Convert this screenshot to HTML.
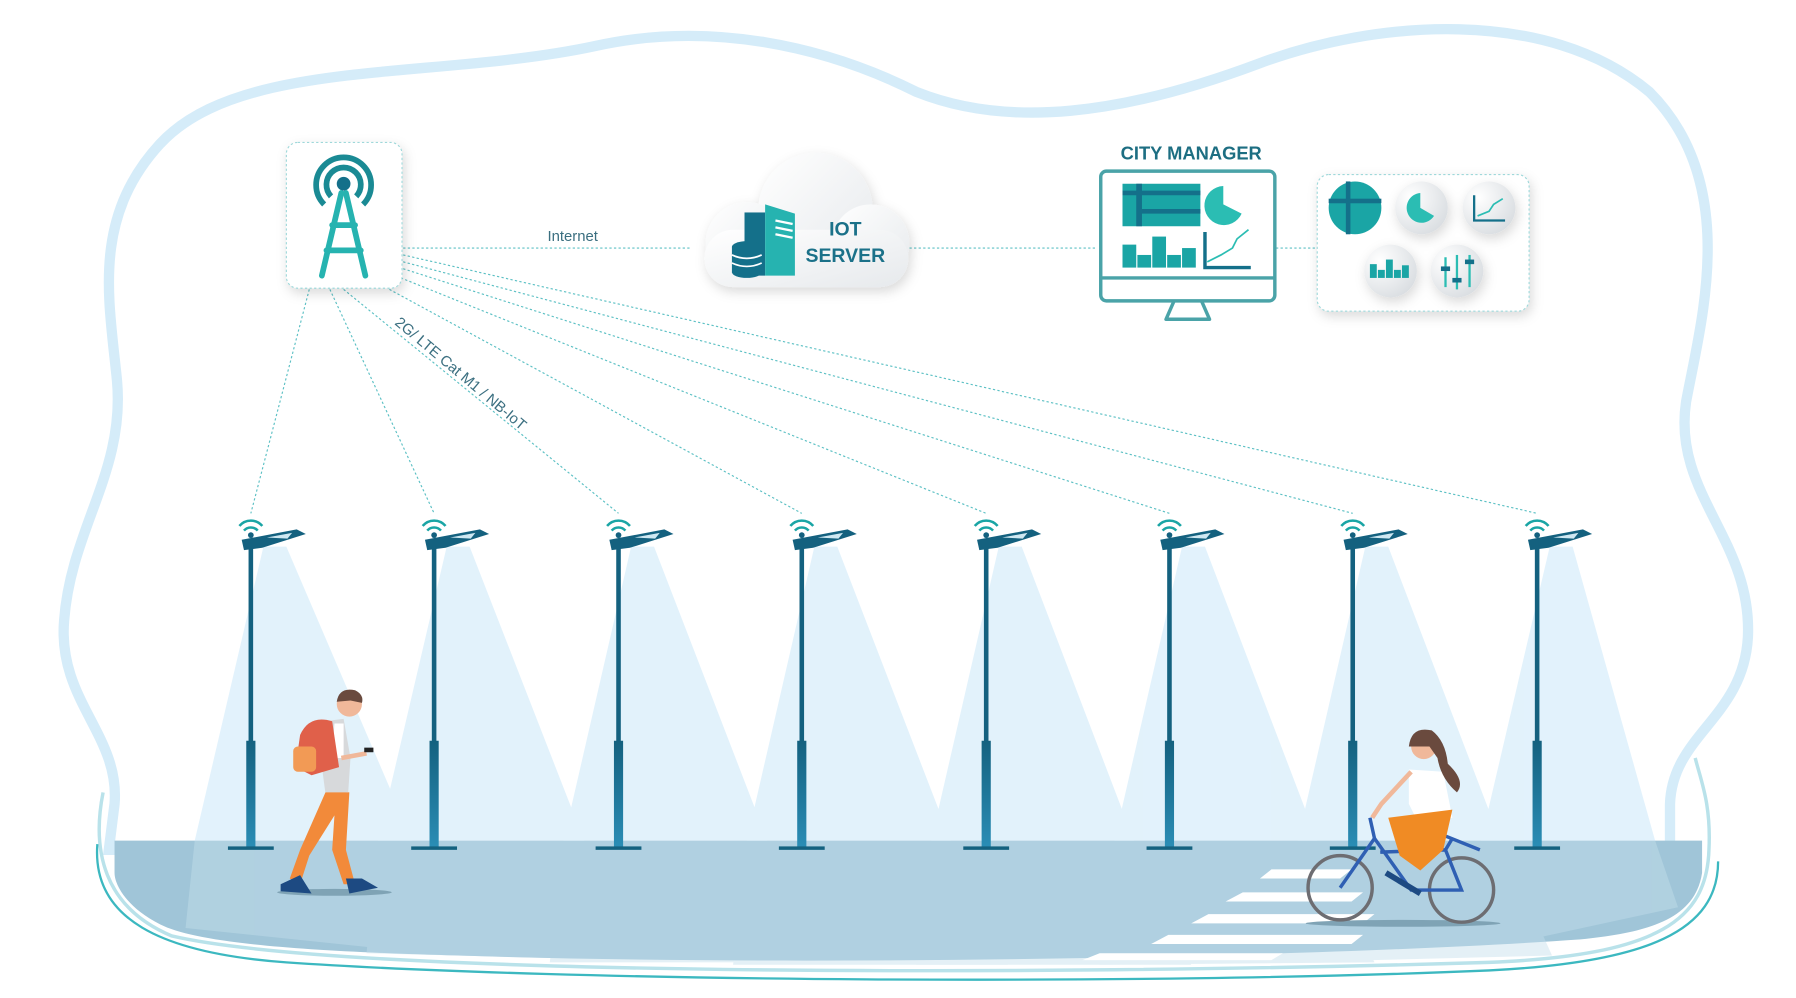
<!DOCTYPE html>
<html><head><meta charset="utf-8"><style>
html,body{margin:0;padding:0;background:#fff;width:1796px;height:998px;overflow:hidden}
svg{display:block}
text{font-family:"Liberation Sans",sans-serif}
</style></head><body>
<svg width="1796" height="998" viewBox="0 0 1568 869" preserveAspectRatio="none" xmlns="http://www.w3.org/2000/svg">
<defs>
<filter id="sh" x="-20%" y="-20%" width="140%" height="150%"><feDropShadow dx="2" dy="4" stdDeviation="5" flood-color="#000" flood-opacity="0.15"/></filter>
<linearGradient id="pole" x1="0" y1="0" x2="0" y2="1"><stop offset="0" stop-color="#14617f"/><stop offset="1" stop-color="#2a8db5"/></linearGradient>
<linearGradient id="cl" x1="0" y1="0" x2="1" y2="1"><stop offset="0" stop-color="#ffffff"/><stop offset="1" stop-color="#e6e9ec"/></linearGradient>
<radialGradient id="ci" cx="0.3" cy="0.3" r="0.8"><stop offset="0" stop-color="#fff"/><stop offset="1" stop-color="#d9dde1"/></radialGradient>
</defs>
<path d="M140 125 C210 50 380 70 520 40 C620 18 720 40 800 80 C880 112 980 100 1100 55 C1200 18 1350 5 1440 80 C1520 160 1485 280 1472 350 C1460 430 1530 470 1526 555 C1522 625 1460 640 1458 700 L1458 740 L95 740 L100 700 C105 640 50 610 56 540 C62 460 110 410 102 330 C95 260 80 190 140 125 Z" fill="#fff" stroke="#d5ecf9" stroke-width="9"/>
<path d="M100 732 L1486 732 L1486 760 C1480 800 1440 812 1380 818 C1150 834 700 842 400 832 C250 828 170 820 140 805 C110 790 100 770 100 760 Z" fill="#a0c5d8"/>
<path d="M90 690 C80 740 90 790 150 815 C300 850 900 850 1300 838 C1450 832 1490 800 1492 740 C1494 700 1485 680 1480 660" fill="none" stroke="#b9e2ea" stroke-width="3"/>
<path d="M85 735 C80 800 140 830 250 838 C500 855 1000 858 1300 845 C1440 838 1500 810 1500 750" fill="none" stroke="#3cb8c0" stroke-width="2"/>
<g fill="#ddf0fb" opacity="0.85">
<polygon points="230,476 250,476 360,732 170,732"/>
<polygon points="390,476 410,476 510,732 330,732"/>
<polygon points="551,476 571,476 670,732 492,732"/>
<polygon points="711,476 731,476 830,732 652,732"/>
<polygon points="872,476 892,476 990,732 813,732"/>
<polygon points="1032,476 1052,476 1150,732 973,732"/>
<polygon points="1192,476 1212,476 1310,732 1133,732"/>
<polygon points="1353,476 1373,476 1445,732 1293,732"/>
</g>
<g fill="#c4dfec" opacity="0.45">
<polygon points="170,732 360,732 392,832 162,808"/>
<polygon points="330,732 510,732 555,836 320,830"/>
<polygon points="492,732 670,732 720,838 480,838"/>
<polygon points="652,732 830,732 880,840 640,840"/>
<polygon points="813,732 990,732 1040,840 800,840"/>
<polygon points="973,732 1150,732 1200,838 960,840"/>
<polygon points="1133,732 1310,732 1355,832 1120,838"/>
<polygon points="1293,732 1445,732 1465,790 1280,830"/>
</g>
<g fill="#fff">
<polygon points="1110,757 1180,757 1170,765 1100,765"/>
<polygon points="1085,777 1190,777 1180,785 1070,785"/>
<polygon points="1055,796 1200,796 1190,804 1040,804"/>
<polygon points="1020,814 1190,814 1180,822 1005,822"/>
<polygon points="960,830 1120,830 1110,836 945,836"/>
</g>
<g stroke="#5cc0c4" stroke-width="1" stroke-dasharray="2 2" fill="none">
<line x1="352" y1="216" x2="602" y2="216"/>
<line x1="790" y1="216" x2="958" y2="216"/>
<line x1="1114" y1="216" x2="1150" y2="216"/>
<line x1="270" y1="252" x2="219" y2="447"/>
<line x1="288" y1="252" x2="379" y2="447"/>
<line x1="300" y1="252" x2="540" y2="447"/>
<line x1="340" y1="252" x2="700" y2="447"/>
<line x1="350" y1="242" x2="861" y2="447"/>
<line x1="352" y1="234" x2="1021" y2="447"/>
<line x1="352" y1="228" x2="1181" y2="447"/>
<line x1="352" y1="222" x2="1342" y2="447"/>
</g>
<text x="500" y="210" font-size="13" fill="#3b6f80" text-anchor="middle">Internet</text>
<text x="0" y="0" font-size="13" fill="#3b6f80" transform="translate(344,282) rotate(40)">2G/ LTE Cat M1 / NB-IoT</text>
<rect x="250" y="124" width="101" height="127" rx="10" fill="#fff" stroke="#9fd8da" stroke-dasharray="2 2" filter="url(#sh)"/>
<g fill="none" stroke="#1a8a94" stroke-width="5">
<path d="M283 178 A24 24 0 1 1 317 178"/>
<path d="M289 171 A15 15 0 1 1 311 171"/>
</g>
<circle cx="300" cy="160" r="6" fill="#14708a"/>
<g stroke="#26b3b0" stroke-width="5" stroke-linecap="round"><line x1="298" y1="168" x2="281" y2="240"/><line x1="302" y1="168" x2="319" y2="240"/><line x1="290" y1="196" x2="310" y2="196"/><line x1="285" y1="218" x2="315" y2="218"/></g>
<g filter="url(#sh)" fill="url(#cl)">
<circle cx="712" cy="183" r="50"/><circle cx="652" cy="212" r="36"/><circle cx="760" cy="212" r="34"/><rect x="615" y="200" width="178" height="50" rx="25"/>
</g>
<g><rect x="650" y="185" width="18" height="55" fill="#14708a"/><polygon points="668,178 694,186 694,240 668,240" fill="#26b3b0"/>
<g stroke="#fff" stroke-width="2"><line x1="677" y1="192" x2="692" y2="195"/><line x1="677" y1="198" x2="692" y2="201"/><line x1="677" y1="204" x2="692" y2="207"/></g>
<ellipse cx="652" cy="215" rx="13" ry="5" fill="#14708a"/><rect x="639" y="215" width="26" height="22" fill="#14708a"/><ellipse cx="652" cy="237" rx="13" ry="5" fill="#14708a"/>
<g stroke="#fff" stroke-width="1.5" fill="none"><path d="M639 222 Q652 228 665 222"/><path d="M639 229 Q652 235 665 229"/></g></g>
<text x="738" y="205" font-size="17" font-weight="bold" fill="#1b7189" text-anchor="middle">IOT</text>
<text x="738" y="228" font-size="17" font-weight="bold" fill="#1b7189" text-anchor="middle">SERVER</text>
<text x="1040" y="139" font-size="16" font-weight="bold" fill="#1d6e82" text-anchor="middle">CITY MANAGER</text>
<rect x="961" y="149" width="152" height="113" rx="5" fill="#fff" stroke="#4aa3a8" stroke-width="3"/>
<line x1="961" y1="242" x2="1113" y2="242" stroke="#4aa3a8" stroke-width="3"/>
<path d="M1025 262 L1018 278 L1056 278 L1049 262" fill="none" stroke="#4aa3a8" stroke-width="3" stroke-linejoin="round"/>
<rect x="980" y="160" width="68" height="37" fill="#1aa5a5"/><rect x="992" y="160" width="5" height="37" fill="#14708a"/><rect x="980" y="166" width="68" height="4" fill="#14708a"/><rect x="997" y="182" width="51" height="4" fill="#14708a"/>
<path d="M1068 162 A17 17 0 1 0 1084 186 L1068 178 Z" fill="#2bbdb3"/>
<g fill="#1aa5a5"><rect x="980" y="213" width="12" height="20"/><rect x="993" y="222" width="12" height="11"/><rect x="1006" y="206" width="12" height="27"/><rect x="1019" y="222" width="12" height="11"/><rect x="1032" y="216" width="12" height="17"/></g>
<path d="M1052 202 L1052 233 L1092 233" fill="none" stroke="#14708a" stroke-width="3"/>
<path d="M1054 228 L1066 222 L1076 216 L1080 208 L1090 200" fill="none" stroke="#2bbdb3" stroke-width="1.5"/>
<rect x="1150" y="152" width="185" height="119" rx="10" fill="#fff" stroke="#9fd8da" stroke-dasharray="2 2" filter="url(#sh)"/>
<g filter="url(#sh)" fill="url(#ci)"><circle cx="1241" cy="181" r="23"/><circle cx="1300" cy="181" r="23"/><circle cx="1214" cy="236" r="23"/><circle cx="1272" cy="236" r="23"/></g>
<circle cx="1183" cy="181" r="23" fill="#1aa5a5"/><rect x="1175" y="158" width="4" height="46" fill="#14708a"/><rect x="1160" y="173" width="46" height="4" fill="#14708a"/>
<path d="M1240 168 A13 13 0 1 0 1252 188 L1240 181 Z" fill="#2bbdb3"/>
<path d="M1287 170 L1287 192 L1314 192" fill="none" stroke="#14708a" stroke-width="2"/><path d="M1290 188 L1300 184 L1304 178 L1312 173" fill="none" stroke="#2bbdb3" stroke-width="1.5"/>
<g fill="#1aa5a5"><rect x="1196" y="230" width="6" height="12"/><rect x="1203" y="235" width="6" height="7"/><rect x="1210" y="226" width="6" height="16"/><rect x="1217" y="235" width="6" height="7"/><rect x="1224" y="231" width="6" height="11"/></g>
<g stroke="#2bbdb3" stroke-width="2"><line x1="1262" y1="224" x2="1262" y2="250"/><line x1="1272" y1="222" x2="1272" y2="252"/><line x1="1283" y1="222" x2="1283" y2="250"/></g>
<g fill="#14708a"><rect x="1258" y="232" width="8" height="4"/><rect x="1268" y="242" width="8" height="4"/><rect x="1279" y="226" width="8" height="4"/></g>
<g id="poles">
<g transform="translate(219,0)">
<rect x="-2" y="476" width="4" height="175" fill="#14617f"/><rect x="-4" y="645" width="8" height="93" fill="url(#pole)"/><rect x="-20" y="737" width="40" height="3" fill="#14617f"/>
<path d="M-8 470 L40 461 L48 465 L10 477 L-6 479 Z" fill="#14617f"/><path d="M14 468 L36 464 L32 469 Z" fill="#cfe8f2"/>
<g fill="none" stroke="#1aa5a5" stroke-width="2.2"><path d="M-10 458 A13 13 0 0 1 10 458"/><path d="M-6 462 A8 8 0 0 1 6 462"/></g><circle cx="0" cy="466" r="2.5" fill="#14617f"/>
</g>
</g>
<use href="#poles" x="160"/><use href="#poles" x="321"/><use href="#poles" x="481"/><use href="#poles" x="642"/><use href="#poles" x="802"/><use href="#poles" x="962"/><use href="#poles" x="1123"/>
<ellipse cx="292" cy="777" rx="50" ry="3" fill="#7fa3b5"/>
<path d="M285 688 L305 690 L302 740 L310 770 L300 770 L290 740 L292 710 L270 745 L262 770 L253 765 L262 740 Z" fill="#f28a3a"/>
<path d="M245 770 L262 762 L272 778 L245 776 Z" fill="#1d4a82"/><path d="M302 765 L316 765 L330 773 L305 778 Z" fill="#1d4a82"/>
<path d="M283 628 L300 626 L306 660 L304 690 L284 690 L280 660 Z" fill="#d7d9db"/>
<path d="M292 630 L300 630 L300 660 L290 660 Z" fill="#fff"/>
<path d="M262 640 Q270 622 290 628 L296 668 L272 675 L258 668 Z" fill="#e0604a"/>
<rect x="256" y="650" width="20" height="22" rx="4" fill="#f29a55"/>
<path d="M298 660 L320 656" stroke="#f0b89a" stroke-width="4"/>
<rect x="318" y="651" width="8" height="4" fill="#222"/>
<circle cx="305" cy="613" r="11" fill="#f0b89a"/><path d="M294 611 Q296 598 310 601 Q318 605 316 612 L306 610 Z" fill="#6a4a3e"/>
<ellipse cx="1225" cy="804" rx="85" ry="3" fill="#7fa3b5"/>
<g fill="none" stroke="#6d6d72" stroke-width="3"><circle cx="1170" cy="773" r="28"/><circle cx="1276" cy="775" r="28"/></g>
<g fill="none" stroke="#2f5fb3" stroke-width="3"><path d="M1170 773 L1200 730 L1232 775 L1276 775 L1262 740 L1205 742"/><line x1="1200" y1="730" x2="1196" y2="712"/><line x1="1262" y1="740" x2="1268" y2="730"/></g>
<path d="M1262 728 L1292 740" stroke="#2f5fb3" stroke-width="3"/>
<path d="M1230 670 L1260 672 L1268 712 L1240 720 L1230 700 Z" fill="#fff"/>
<path d="M1212 712 L1268 705 L1260 740 L1240 758 L1222 745 Z" fill="#f08b24"/>
<path d="M1210 760 L1240 778" stroke="#1d4a82" stroke-width="5"/>
<path d="M1232 672 L1206 700 L1198 712" stroke="#f0b89a" stroke-width="4" fill="none"/>
<circle cx="1243" cy="650" r="11" fill="#f0b89a"/>
<path d="M1230 650 Q1232 632 1250 636 Q1262 645 1264 665 Q1280 680 1272 690 Q1258 678 1255 660 L1248 650 Z" fill="#6a4a3e"/>
</svg>
</body></html>
